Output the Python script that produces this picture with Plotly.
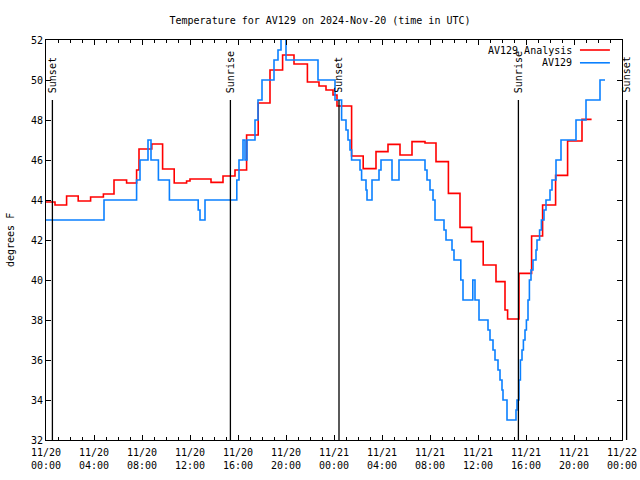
import plotly.graph_objects as go
import pandas as pd

# ---------------- data ----------------
obs_times = ["2024-11-19 23:50", "2024-11-20 04:50", "2024-11-20 07:33", "2024-11-20 07:50", "2024-11-20 08:30",
             "2024-11-20 08:45", "2024-11-20 09:22", "2024-11-20 10:17", "2024-11-20 12:41", "2024-11-20 12:50",
             "2024-11-20 13:15", "2024-11-20 15:54", "2024-11-20 16:05", "2024-11-20 16:25", "2024-11-20 16:35",
             "2024-11-20 16:45", "2024-11-20 17:25", "2024-11-20 17:40", "2024-11-20 18:00", "2024-11-20 19:00",
             "2024-11-20 19:20", "2024-11-20 19:35", "2024-11-20 20:00", "2024-11-20 22:40", "2024-11-21 00:05",
             "2024-11-21 00:38", "2024-11-21 01:00", "2024-11-21 01:10", "2024-11-21 01:20", "2024-11-21 01:28",
             "2024-11-21 02:10", "2024-11-21 02:18", "2024-11-21 02:40", "2024-11-21 02:45", "2024-11-21 03:10",
             "2024-11-21 03:45", "2024-11-21 03:55", "2024-11-21 04:50", "2024-11-21 05:25", "2024-11-21 07:35",
             "2024-11-21 07:45", "2024-11-21 08:00", "2024-11-21 08:15", "2024-11-21 08:25", "2024-11-21 09:10",
             "2024-11-21 09:20", "2024-11-21 09:50", "2024-11-21 10:00", "2024-11-21 10:34", "2024-11-21 10:45",
             "2024-11-21 11:34", "2024-11-21 11:45", "2024-11-21 12:05", "2024-11-21 12:50", "2024-11-21 13:00",
             "2024-11-21 13:15", "2024-11-21 13:25", "2024-11-21 13:40", "2024-11-21 13:50", "2024-11-21 14:00",
             "2024-11-21 14:05", "2024-11-21 14:25", "2024-11-21 15:10", "2024-11-21 15:15", "2024-11-21 15:25",
             "2024-11-21 15:32", "2024-11-21 15:40", "2024-11-21 15:47", "2024-11-21 15:55", "2024-11-21 16:02",
             "2024-11-21 16:10", "2024-11-21 16:17", "2024-11-21 16:25", "2024-11-21 16:35", "2024-11-21 16:50",
             "2024-11-21 16:55", "2024-11-21 17:08", "2024-11-21 17:17", "2024-11-21 17:30", "2024-11-21 17:40",
             "2024-11-21 18:00", "2024-11-21 18:10", "2024-11-21 18:30", "2024-11-21 18:55", "2024-11-21 20:10",
             "2024-11-21 21:00", "2024-11-21 22:10", "2024-11-21 22:35"]
obs_temps = [43, 44, 45, 46, 47,
             46, 45, 44, 43.5, 43,
             44, 45, 46, 47, 46,
             47, 48, 49, 50, 51,
             51.5, 52.5, 51, 50, 49,
             48, 47.5, 47, 46.5, 46,
             45.5, 45, 44.5, 44, 45,
             45.5, 46, 45, 46, 45.5,
             45, 44.5, 44, 43, 42.5,
             42, 41.5, 41, 40, 39,
             40, 39, 38, 37.5, 37,
             36.5, 36, 35.5, 35, 34.5,
             34, 33, 33.5, 34, 35,
             36, 36.5, 37, 37.5, 38,
             39, 40, 40.5, 41, 41.5,
             42, 42.5, 43, 43.5, 44,
             44.5, 45, 46, 47, 48,
             49, 50, 50]

ana_times = ["2024-11-19 23:50", "2024-11-20 00:45", "2024-11-20 01:43", "2024-11-20 02:41", "2024-11-20 03:43",
             "2024-11-20 04:47", "2024-11-20 05:40", "2024-11-20 06:43", "2024-11-20 07:33", "2024-11-20 07:45",
             "2024-11-20 08:49", "2024-11-20 09:43", "2024-11-20 10:41", "2024-11-20 11:43", "2024-11-20 12:00",
             "2024-11-20 13:45", "2024-11-20 14:45", "2024-11-20 15:45", "2024-11-20 16:43", "2024-11-20 17:41",
             "2024-11-20 18:40", "2024-11-20 19:43", "2024-11-20 20:40", "2024-11-20 21:47", "2024-11-20 22:45",
             "2024-11-20 23:20", "2024-11-20 23:55", "2024-11-21 00:15", "2024-11-21 01:28", "2024-11-21 02:26",
             "2024-11-21 03:30", "2024-11-21 04:30", "2024-11-21 05:30", "2024-11-21 06:30", "2024-11-21 07:35",
             "2024-11-21 08:30", "2024-11-21 09:32", "2024-11-21 10:30", "2024-11-21 11:28", "2024-11-21 12:26",
             "2024-11-21 13:30", "2024-11-21 14:15", "2024-11-21 14:28", "2024-11-21 15:25", "2024-11-21 16:28",
             "2024-11-21 17:23", "2024-11-21 18:28", "2024-11-21 19:28", "2024-11-21 20:40", "2024-11-21 21:28"]
ana_temps = [43.9, 43.75, 44.2, 43.95, 44.15,
             44.3, 45.0, 44.85, 45.5, 46.55,
             46.8, 45.55, 44.85, 44.95, 45.05,
             44.88, 45.2, 45.5, 47.25, 48.85,
             50.5, 51.25, 50.8, 49.9, 49.7,
             49.5, 49.25, 48.7, 46.2, 45.57,
             46.42, 46.78, 46.25, 46.92, 46.85,
             45.92, 44.33, 42.63, 41.92, 40.75,
             39.92, 38.5, 38.05, 40.33, 42.2,
             43.75, 45.23, 46.95, 48.03, 48.03]

sun_labels = ["Sunset", "Sunrise", "Sunset", "Sunrise", "Sunset"]
sun_times = ["2024-11-20 00:32", "2024-11-20 15:22", "2024-11-21 00:25", "2024-11-21 15:22", "2024-11-22 00:23"]

x_start = "2024-11-20 00:00"
x_end = "2024-11-22 00:00"
y_min, y_max = 32, 52
sun_line_top = 49

series_names = ["AV129 Analysis", "AV129"]
title_text = "Temperature for AV129 on 2024-Nov-20 (time in UTC)"
y_label = "degrees F"

# ---------------- styling ----------------
FONT = "DejaVu Sans Mono"
FS = 10
RED = "#ff0000"
BLUE = "#0a80ff"
W, H = 640, 480

fig = go.Figure()
fig.add_trace(go.Scatter(x=ana_times, y=ana_temps, mode="lines", line=dict(color=RED, width=1.6, shape="hv"),
                         name=series_names[0], showlegend=False, hoverinfo="skip"))
fig.add_trace(go.Scatter(x=obs_times, y=obs_temps, mode="lines", line=dict(color=BLUE, width=1.6, shape="hv"),
                         name=series_names[1], showlegend=False, hoverinfo="skip"))

t0 = pd.Timestamp(x_start)
t1 = pd.Timestamp(x_end)
span = (t1 - t0).total_seconds()
top_frac = (sun_line_top - y_min) / (y_max - y_min)
for lab, t in zip(sun_labels, sun_times):
    px = (pd.Timestamp(t) - t0).total_seconds() / span
    fig.add_shape(type="line", xref="paper", yref="paper", x0=px, x1=px, y0=0, y1=top_frac,
                  line=dict(color="black", width=1.3))
    fig.add_annotation(text=lab, xref="paper", yref="paper", x=px, y=top_frac + 0.013,
                       xanchor="center", yanchor="bottom", textangle=-90, showarrow=False,
                       font=dict(family=FONT, size=FS, color="black"))

# legend (gnuplot style: text right, sample line on right)
leg_y = [0.975, 0.943]
for name, col, ly in zip(series_names, [RED, BLUE], leg_y):
    fig.add_annotation(text=name, xref="paper", yref="paper", x=0.9167, y=ly, xanchor="right",
                       yanchor="middle", showarrow=False, font=dict(family=FONT, size=FS, color="black"))
    fig.add_shape(type="line", xref="paper", yref="paper", x0=0.927, x1=0.979, y0=ly, y1=ly,
                  line=dict(color=col, width=1.6))

fig.add_annotation(text=y_label, xref="paper", yref="paper", x=-0.0625, y=0.5, textangle=-90,
                   xanchor="center", yanchor="middle", showarrow=False,
                   font=dict(family=FONT, size=FS, color="black"))

fig.update_layout(
    width=W, height=H,
    margin=dict(l=46, r=18, t=40, b=40),
    paper_bgcolor="white", plot_bgcolor="white",
    font=dict(family=FONT, size=FS, color="black"),
    title=dict(text=title_text, x=0.5, xref="container", xanchor="center",
               y=1 - 20 / H, yref="container", yanchor="middle",
               font=dict(family=FONT, size=FS, color="black")),
    showlegend=False,
)
fig.update_xaxes(range=[x_start, x_end], type="date", tick0=x_start, dtick=4 * 3600 * 1000,
                 tickformat="%m/%d<br>%H:%M", ticks="inside", ticklen=5, tickcolor="black",
                 showline=True, linecolor="black", linewidth=1, mirror="ticks", showgrid=False,
                 zeroline=False, automargin=False, ticklabelstandoff=3,
                 minor=dict(dtick=3600 * 1000, ticks="inside", ticklen=3, tickcolor="black", showgrid=False),
                 tickfont=dict(family=FONT, size=FS, color="black"))
fig.update_yaxes(range=[y_min, y_max], dtick=2, tick0=y_min, ticks="inside", ticklen=5, tickcolor="black",
                 showline=True, linecolor="black", linewidth=1, mirror="ticks", showgrid=False,
                 zeroline=False, automargin=False, tickfont=dict(family=FONT, size=FS, color="black"))

fig.write_html("out.html", config={"displayModeBar": False, "staticPlot": True},
               post_script="document.body.style.margin='0';document.body.style.overflow='hidden';")
